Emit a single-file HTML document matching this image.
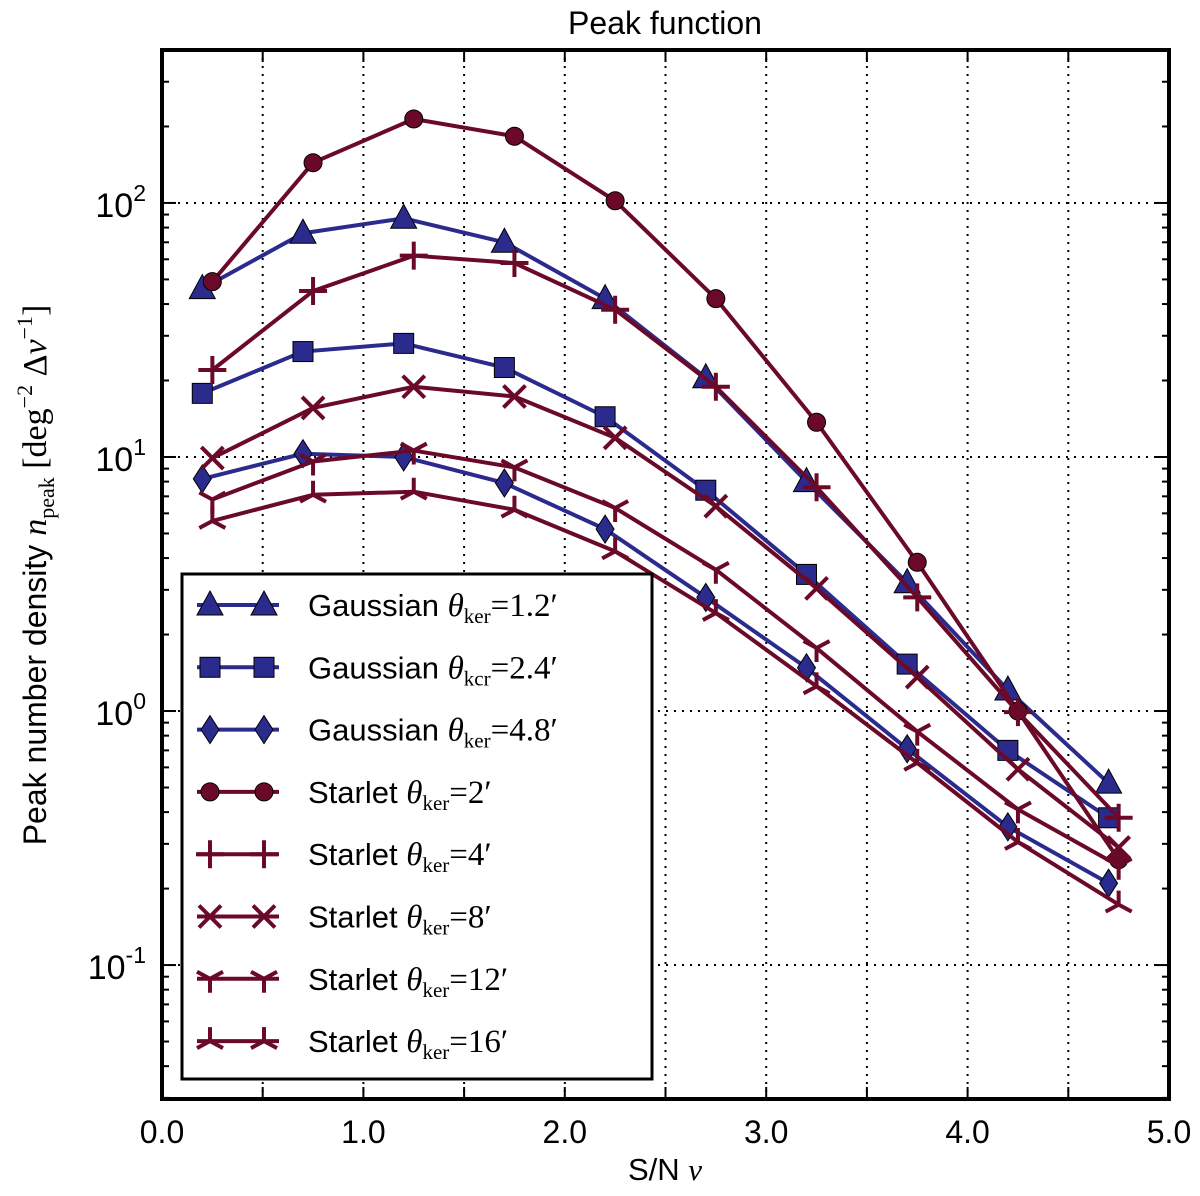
<!DOCTYPE html>
<html><head><meta charset="utf-8">
<style>
body{margin:0;background:#fff;}
svg text{font-family:"Liberation Sans",sans-serif;}
</style></head>
<body>
<svg id="chart" width="1200" height="1191" xmlns="http://www.w3.org/2000/svg">
</svg>
<script>
const xG = [0.2,0.7,1.2,1.7,2.2,2.7,3.2,3.7,4.2,4.7];
const xS = [0.25,0.75,1.25,1.75,2.25,2.75,3.25,3.75,4.25,4.75];
const gauss12 = [46,76,87,70,42,20.5,8.0,3.2,1.21,0.52];
const gauss24 = [17.8,26,28,22.5,14.4,7.4,3.45,1.53,0.70,0.38];
const gauss48 = [8.2,10.3,10,7.9,5.2,2.8,1.48,0.71,0.35,0.21];
const star2 = [49,144,214,183,102,42,13.7,3.85,1.0,0.26];
const star4 = [22,45,62,58,38,18.9,7.6,2.8,0.99,0.38];
const star8 = [9.9,15.6,18.9,17.3,11.9,6.4,3.04,1.36,0.59,0.29];
const star12 = [6.8,9.6,10.6,9.1,6.3,3.6,1.77,0.83,0.41,0.246];
const star16 = [5.6,7.1,7.3,6.2,4.25,2.43,1.25,0.625,0.305,0.173];
const xTicks = ["0.0","1.0","2.0","3.0","4.0","5.0"];
const yDecades = [-1,0,1,2];
const legendLabels = [
 ["Gaussian ","1.2′"],["Gaussian ","2.4′"],["Gaussian ","4.8′"],
 ["Starlet ","2′"],["Starlet ","4′"],["Starlet ","8′"],["Starlet ","12′"],["Starlet ","16′"]];

const NS="http://www.w3.org/2000/svg";
const svg=document.getElementById('chart');
const L=162,R=1169,T=50,B=1099;
const xmin=0,xmax=5,lmin=Math.log10(0.0297),lmax=Math.log10(400);
const X=v=>L+(v-xmin)/(xmax-xmin)*(R-L);
const Y=v=>B-(Math.log10(v)-lmin)/(lmax-lmin)*(B-T);
const BLUE="#2b2b8e",RED="#6b0a28";
function el(t,a,p){const e=document.createElementNS(NS,t);for(const k in a)e.setAttribute(k,a[k]);(p||svg).appendChild(e);return e;}

const grid=el('g',{});


for(let i=1;i<10;i++){const x=X(i*0.5);el('line',{x1:x,x2:x,y1:T,y2:B,stroke:'#000','stroke-width':2,'stroke-dasharray':'2,6'},grid);}
yDecades.forEach(d=>{const y=Y(Math.pow(10,d));el('line',{x1:L,x2:R,y1:y,y2:y,stroke:'#000','stroke-width':2,'stroke-dasharray':'2,6'},grid);});

const ticks=el('g',{});


for(let i=1;i<10;i++){const x=X(i*0.5);el('line',{x1:x,x2:x,y1:B,y2:B-12,stroke:'#000','stroke-width':2},ticks);el('line',{x1:x,x2:x,y1:T,y2:T+12,stroke:'#000','stroke-width':2},ticks);}
for(let d=-2;d<=2;d++){for(let m=1;m<10;m++){const v=m*Math.pow(10,d);const y=Y(v);if(y<T||y>B)continue;const len=m===1?14:7;
el('line',{x1:L,x2:L+len,y1:y,y2:y,stroke:'#000','stroke-width':2},ticks);el('line',{x1:R,x2:R-len,y1:y,y2:y,stroke:'#000','stroke-width':2},ticks);}}

xTicks.forEach((t,i)=>{const tx=el('text',{x:X(i),y:1143,'font-size':32,'text-anchor':'middle'});tx.textContent=t;

});
yDecades.forEach(d=>{const tx=el('text',{x:146,y:Y(Math.pow(10,d))+14,'font-size':34,'text-anchor':'end'});


const a=el('tspan',{},tx);a.textContent='10';const b=el('tspan',{dy:-16,'font-size':23},tx);b.textContent=String(d);});

const fr=el('rect',{x:L,y:T,width:R-L,height:B-T,fill:'none',stroke:'#000','stroke-width':4});



function marker(g,type,x,y,c){
 const sw=4;
 if(type==='tri'){el('polygon',{points:`${x},${y-14} ${x+13},${y+10} ${x-13},${y+10}`,fill:c,stroke:'#000','stroke-width':1},g);}
 else if(type==='sq'){el('rect',{x:x-10,y:y-10,width:20,height:20,fill:c,stroke:'#000','stroke-width':1},g);}
 else if(type==='dia'){el('polygon',{points:`${x},${y-14} ${x+9},${y} ${x},${y+14} ${x-9},${y}`,fill:c,stroke:'#000','stroke-width':1},g);}
 else if(type==='circ'){el('circle',{cx:x,cy:y,r:9,fill:c,stroke:'#000','stroke-width':1},g);}
 else if(type==='plus'){el('path',{d:`M${x-14},${y}H${x+14}M${x},${y-14}V${y+14}`,stroke:c,'stroke-width':sw},g);}
 else if(type==='x'){el('path',{d:`M${x-11},${y-11}L${x+11},${y+11}M${x-11},${y+11}L${x+11},${y-11}`,stroke:c,'stroke-width':sw},g);}
 else if(type==='tdown'){el('path',{d:`M${x},${y}V${y+14}M${x},${y}L${x-13},${y-7}M${x},${y}L${x+13},${y-7}`,stroke:c,'stroke-width':sw},g);}
 else if(type==='tup'){el('path',{d:`M${x},${y}V${y-14}M${x},${y}L${x-13},${y+7}M${x},${y}L${x+13},${y+7}`,stroke:c,'stroke-width':sw},g);}
}
const series=[
 [xG,gauss12,BLUE,'tri','series-gaussian-1-2'],
 [xG,gauss24,BLUE,'sq','series-gaussian-2-4'],
 [xG,gauss48,BLUE,'dia','series-gaussian-4-8'],
 [xS,star2,RED,'circ','series-starlet-2'],
 [xS,star4,RED,'plus','series-starlet-4'],
 [xS,star8,RED,'x','series-starlet-8'],
 [xS,star12,RED,'tdown','series-starlet-12'],
 [xS,star16,RED,'tup','series-starlet-16']];
series.forEach(([xs,ys,c,m,name])=>{
 const g=el('g',{});
 
 
 el('polyline',{points:xs.map((x,i)=>X(x)+','+Y(ys[i])).join(' '),fill:'none',stroke:c,'stroke-width':4,'stroke-linejoin':'round'},g);
 xs.forEach((x,i)=>marker(g,m,X(x),Y(ys[i]),c));
});

const lg=el('g',{});


el('rect',{x:182,y:574,width:470,height:505,fill:'#fff',stroke:'#000','stroke-width':3},lg);
series.forEach((s,i)=>{
 const y=605+i*62.3;
 const e=el('g',{},lg);
 
 
 el('line',{x1:197,x2:279,y1:y,y2:y,stroke:s[2],'stroke-width':4},e);
 marker(e,s[3],210,y,s[2]);marker(e,s[3],264,y,s[2]);
 const t=el('text',{x:308,y:y+11,'font-size':31},e);
 const a=el('tspan',{},t);a.textContent=legendLabels[i][0];
 const b=el('tspan',{'font-family':'Liberation Serif, serif','font-style':'italic','font-size':33},t);b.textContent='θ';
 const c=el('tspan',{dy:7,'font-size':21,'font-family':'Liberation Serif, serif'},t);c.textContent=(i===1?'kcr':'ker');
 const d=el('tspan',{dy:-7,'font-family':'Liberation Serif, serif','font-size':33},t);d.textContent='='+legendLabels[i][1];
});

const ti=el('text',{x:665,y:34,'font-size':32,'text-anchor':'middle'});ti.textContent='Peak function';


const xl=el('text',{x:665,y:1180,'font-size':31,'text-anchor':'middle'});


xl.appendChild(document.createTextNode('S/N '));
const nu=el('tspan',{'font-family':'Liberation Serif, serif','font-style':'italic'},xl);nu.textContent='ν';
const yl=el('text',{x:0,y:0,'font-size':32,'text-anchor':'middle',transform:'translate(46,575) rotate(-90)'});


yl.appendChild(document.createTextNode('Peak number density '));
const n1=el('tspan',{'font-family':'Liberation Serif, serif','font-style':'italic','font-size':34},yl);n1.textContent='n';
const n2=el('tspan',{dy:8,'font-size':22,'font-family':'Liberation Serif, serif'},yl);n2.textContent='peak';
const n3=el('tspan',{dy:-8,'font-family':'Liberation Serif, serif','font-size':34},yl);n3.textContent=' [deg';
const n4=el('tspan',{dy:-14,'font-size':22,'font-family':'Liberation Serif, serif'},yl);n4.textContent='−2';
const n5=el('tspan',{dy:14,'font-family':'Liberation Serif, serif','font-size':34},yl);n5.textContent=' Δ';
const n6=el('tspan',{'font-family':'Liberation Serif, serif','font-style':'italic','font-size':34},yl);n6.textContent='ν';
const n7=el('tspan',{dy:-14,'font-size':22,'font-family':'Liberation Serif, serif'},yl);n7.textContent='−1';
const n8=el('tspan',{dy:14,'font-family':'Liberation Serif, serif','font-size':34},yl);n8.textContent=']';
</script>
</body></html>
